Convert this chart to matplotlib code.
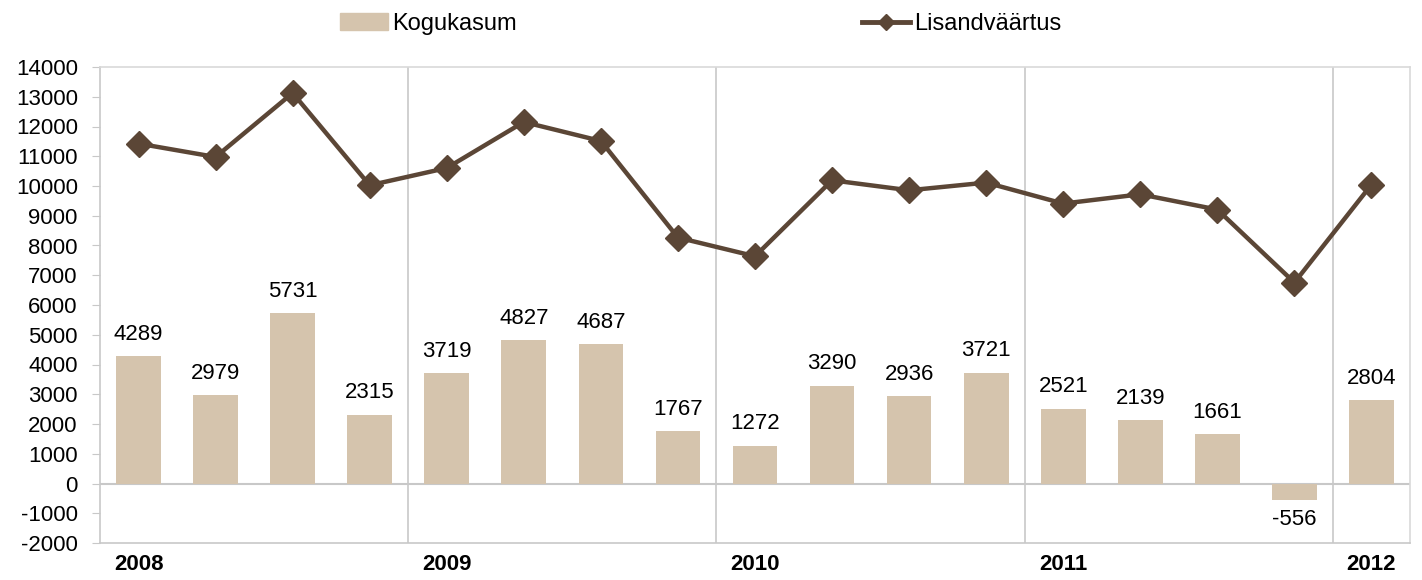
import numpy as np
import matplotlib.pyplot as plt
from matplotlib.lines import Line2D
from matplotlib.patches import Patch

# kvartalid 2008 I - 2012 I
years = ['2008', '2009', '2010', '2011', '2012']
kogukasum = [4289, 2979, 5731, 2315, 3719, 4827, 4687, 1767, 1272,
             3290, 2936, 3721, 2521, 2139, 1661, -556, 2804]
lisandvaartus = [11425, 10975, 13126, 10024, 10605, 12151, 11513, 8266, 7638,
                 10192, 9856, 10114, 9409, 9721, 9207, 6754, 10047]

bar_color = '#D5C4AD'
line_color = '#5B4636'
grid_color = '#C8C8C8'

plt.rcParams['font.family'] = ['Liberation Sans', 'DejaVu Sans']
plt.rcParams['axes.unicode_minus'] = False

fig = plt.figure(figsize=(14.22, 5.8), dpi=100)
ax = fig.add_axes([100 / 1422, 1 - 543 / 580, 1310 / 1422, (543 - 67) / 580])

x = np.arange(len(kogukasum))
ax.bar(x, kogukasum, width=0.58, color=bar_color, zorder=2)
ax.plot(x, lisandvaartus, color=line_color, lw=3.2, marker='D', ms=13,
        zorder=3)

for xi, v in zip(x, kogukasum):
    if v >= 0:
        ax.text(xi, v + 380, str(v), ha='center', va='bottom', fontsize=16)
    else:
        ax.text(xi, v - 300, str(v), ha='center', va='top', fontsize=16)

ax.set_xlim(-0.5, len(x) - 0.5)
ax.set_ylim(-2000, 14000)
ax.set_yticks(range(-2000, 14001, 1000))
ax.tick_params(axis='y', labelsize=16, length=6, color=grid_color, pad=10)

# aasta algus
ax.set_xticks([0, 4, 8, 12, 16])
ax.set_xticklabels(years, fontsize=16, fontweight='bold')
ax.tick_params(axis='x', length=0, pad=8)
for b in [3.5, 7.5, 11.5, 15.5]:
    ax.axvline(b, color=grid_color, lw=1.2, zorder=1)
ax.axhline(0, color=grid_color, lw=1.5, zorder=1)

for s in ax.spines.values():
    s.set_color('#D9D9D9')
    s.set_linewidth(1.2)
ax.spines['left'].set_color(grid_color)
ax.spines['bottom'].set_color(grid_color)

handles = [Patch(color=bar_color),
           Line2D([], [], color=line_color, lw=3.5, marker='D', ms=8)]
fig.legend(handles, ['Kogukasum', 'Lisandväärtus'], loc='upper left',
           bbox_to_anchor=(340 / 1422, 1 - 13 / 580), ncol=2, frameon=False,
           fontsize=17, columnspacing=14.6, handlelength=2.05,
           handletextpad=0.17, borderpad=0, borderaxespad=0)

fig.savefig('out.png', dpi=100)
